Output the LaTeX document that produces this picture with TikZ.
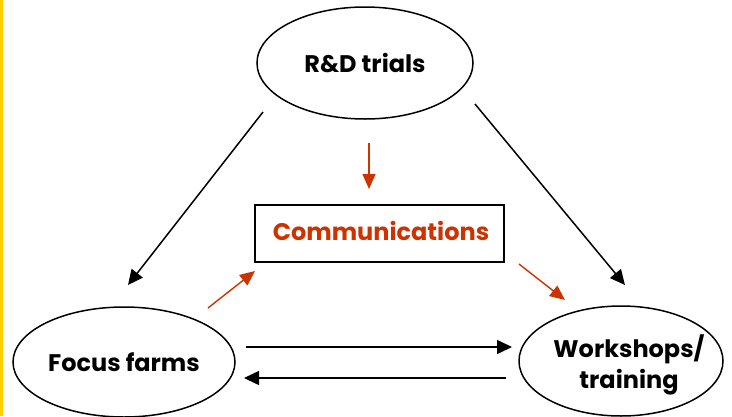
\documentclass[tikz,border=0pt]{standalone}
\usepackage{fontspec}
\setmainfont{Poppins}[BoldFont={* Bold}]
\usetikzlibrary{arrows.meta,shapes.geometric}
\definecolor{commred}{HTML}{CC3300}
\definecolor{edgeyellow}{HTML}{FFD000}
\begin{document}
\begin{tikzpicture}[x=1pt,y=-1pt,
  oval/.style={draw=black,line width=1.5pt,ellipse,inner sep=0pt,align=center,font=\bfseries\fontsize{24}{31}\selectfont},
  commbox/.style={draw=black,line width=1.5pt,rectangle,inner sep=0pt,font=\bfseries\fontsize{24}{28}\selectfont,text=commred},
  blackarrow/.style={draw=black,line width=1.5pt,-{Triangle[length=15pt,width=14pt]}},
  redarrow/.style={draw=commred,line width=1.4pt,-{Triangle[length=15pt,width=13pt]}}]
\useasboundingbox (0,0) rectangle (732,416);
\fill[edgeyellow] (0,0) rectangle (3,416);
\node[oval,minimum width=216pt,minimum height=112pt] (rd) at (365,63) {R\&D trials};
\node[oval,minimum width=222pt,minimum height=110pt] (ff) at (124,362) {Focus farms};
\node[oval,minimum width=204pt,minimum height=110pt] (ws) at (621,361) {};
\node[align=center,font=\bfseries\fontsize{24}{31}\selectfont] (wst) at (629,365) {Workshops/\\training};
\node[commbox,minimum width=249pt,minimum height=57pt] (cm) at (379.5,233.5) {};
\node[font=\bfseries\fontsize{24}{28}\selectfont,text=commred] (cmt) at (381,231) {Communications};
\coordinate (a1s) at (263,112);
\coordinate (a1e) at (128,285);
\coordinate (a2s) at (475,104);
\coordinate (a2e) at (625,285);
\coordinate (r1s) at (369,143);
\coordinate (r1e) at (369,189);
\coordinate (r2s) at (208,308);
\coordinate (r2e) at (255,271);
\coordinate (r3s) at (519,264);
\coordinate (r3e) at (565,300);
\coordinate (h1s) at (246,347);
\coordinate (h1e) at (512,347);
\coordinate (h2s) at (506,378);
\coordinate (h2e) at (244,378);
\draw[blackarrow] (a1s) -- (a1e);
\draw[blackarrow] (a2s) -- (a2e);
\draw[redarrow] (r1s) -- (r1e);
\draw[redarrow] (r2s) -- (r2e);
\draw[redarrow] (r3s) -- (r3e);
\draw[blackarrow] (h1s) -- (h1e);
\draw[blackarrow] (h2s) -- (h2e);
\end{tikzpicture}
\end{document}
